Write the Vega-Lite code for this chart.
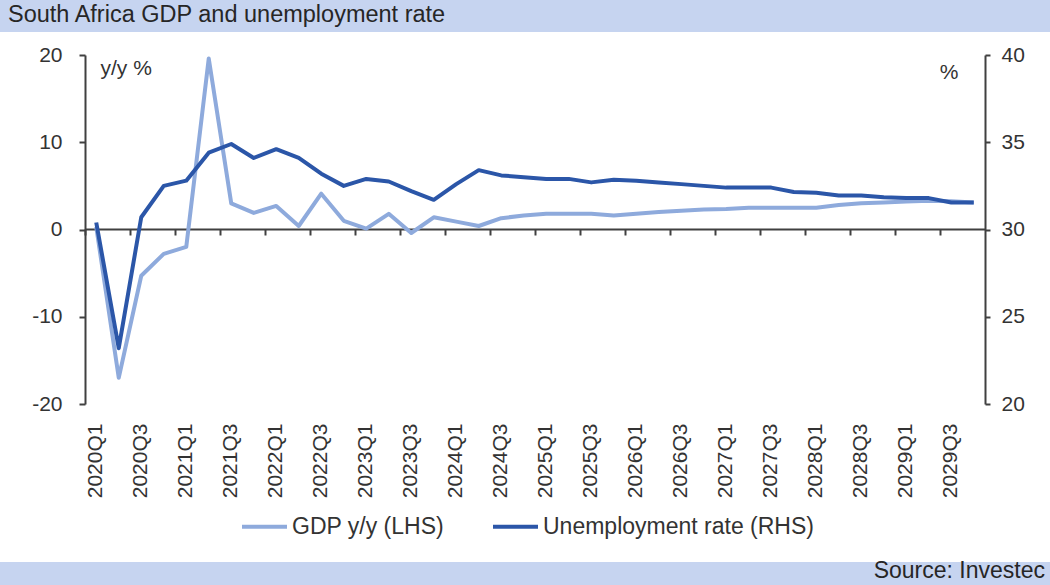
{
  "$schema": "https://vega.github.io/schema/vega-lite/v6.json",
  "padding": 0,
  "background": "white",
  "config": {
    "font": "Liberation Sans",
    "view": {"stroke": null}
  },
  "datasets": {
    "series": [
      {"q": "2020Q1", "gdp": 0.3, "unemp": 30.4},
      {"q": "2020Q2", "gdp": -17.0, "unemp": 23.2},
      {"q": "2020Q3", "gdp": -5.3, "unemp": 30.7},
      {"q": "2020Q4", "gdp": -2.8, "unemp": 32.5},
      {"q": "2021Q1", "gdp": -2.0, "unemp": 32.8},
      {"q": "2021Q2", "gdp": 19.6, "unemp": 34.4},
      {"q": "2021Q3", "gdp": 3.0, "unemp": 34.9},
      {"q": "2021Q4", "gdp": 1.9, "unemp": 34.1},
      {"q": "2022Q1", "gdp": 2.7, "unemp": 34.6},
      {"q": "2022Q2", "gdp": 0.4, "unemp": 34.1},
      {"q": "2022Q3", "gdp": 4.1, "unemp": 33.2},
      {"q": "2022Q4", "gdp": 1.0, "unemp": 32.5},
      {"q": "2023Q1", "gdp": 0.1, "unemp": 32.9},
      {"q": "2023Q2", "gdp": 1.8, "unemp": 32.75},
      {"q": "2023Q3", "gdp": -0.4, "unemp": 32.2},
      {"q": "2023Q4", "gdp": 1.4, "unemp": 31.7},
      {"q": "2024Q1", "gdp": 0.9, "unemp": 32.6},
      {"q": "2024Q2", "gdp": 0.4, "unemp": 33.4},
      {"q": "2024Q3", "gdp": 1.3, "unemp": 33.1},
      {"q": "2024Q4", "gdp": 1.6, "unemp": 33.0},
      {"q": "2025Q1", "gdp": 1.8, "unemp": 32.9},
      {"q": "2025Q2", "gdp": 1.8, "unemp": 32.9},
      {"q": "2025Q3", "gdp": 1.8, "unemp": 32.7},
      {"q": "2025Q4", "gdp": 1.6, "unemp": 32.85},
      {"q": "2026Q1", "gdp": 1.8, "unemp": 32.8},
      {"q": "2026Q2", "gdp": 2.0, "unemp": 32.7},
      {"q": "2026Q3", "gdp": 2.15, "unemp": 32.6},
      {"q": "2026Q4", "gdp": 2.3, "unemp": 32.5},
      {"q": "2027Q1", "gdp": 2.35, "unemp": 32.4},
      {"q": "2027Q2", "gdp": 2.5, "unemp": 32.4},
      {"q": "2027Q3", "gdp": 2.5, "unemp": 32.4},
      {"q": "2027Q4", "gdp": 2.5, "unemp": 32.15},
      {"q": "2028Q1", "gdp": 2.5, "unemp": 32.1},
      {"q": "2028Q2", "gdp": 2.8, "unemp": 31.95},
      {"q": "2028Q3", "gdp": 3.0, "unemp": 31.95},
      {"q": "2028Q4", "gdp": 3.1, "unemp": 31.85},
      {"q": "2029Q1", "gdp": 3.2, "unemp": 31.8},
      {"q": "2029Q2", "gdp": 3.3, "unemp": 31.8},
      {"q": "2029Q3", "gdp": 3.25, "unemp": 31.55},
      {"q": "2029Q4", "gdp": 3.1, "unemp": 31.55}
    ]
  },
  "spacing": 0,
  "bounds": "flush",
  "resolve": {"scale": {"color": "independent"}, "legend": {"color": "independent"}},
  "vconcat": [
    {
      "width": 1050,
      "height": 32,
      "view": {"fill": "#c6d4f0", "stroke": null},
      "title": {
        "text": "South Africa GDP and unemployment rate",
        "anchor": "start",
        "frame": "group",
        "orient": "top",
        "offset": -26,
        "dx": 8,
        "fontSize": 23.5,
        "fontWeight": "normal",
        "font": "Liberation Sans",
        "color": "#262626"
      },
      "data": {"values": [{"t": ""}]},
      "mark": {"type": "text"},
      "encoding": {"text": {"field": "t"}}
    },
    {
      "width": 1050,
      "height": 530,
      "data": {"name": "series"},
      "layer": [
        {
          "mark": {"type": "line", "strokeWidth": 4, "strokeJoin": "round"},
          "encoding": {
            "x": {
              "field": "q", "type": "ordinal", "sort": null,
              "scale": {"type": "band", "paddingInner": 0, "paddingOuter": 0, "range": [85, 985]},
              "axis": {
                "orient": "bottom",
                "offset": -158,
                "title": null,
                "values": ["2020Q1","2020Q3","2021Q1","2021Q3","2022Q1","2022Q3","2023Q1","2023Q3","2024Q1","2024Q3","2025Q1","2025Q3","2026Q1","2026Q3","2027Q1","2027Q3","2028Q1","2028Q3","2029Q1","2029Q3"],
                "labelAngle": 270,
                "labelFontSize": 21,
                "labelColor": "#333333",
                "labelPadding": 19,
                "labelOverlap": false,
                "ticks": false,
                "domain": false,
                "grid": false
              }
            },
            "y": {
              "field": "gdp", "type": "quantitative",
              "scale": {"domain": [-20, 20], "nice": false, "zero": false, "range": [372, 23]},
              "axis": {
                "orient": "left",
                "offset": -85,
                "values": [-20, -10, 0, 10, 20],
                "labelExpr": "replace(datum.label, '−', '-')",
                "grid": false,
                "domainColor": "#404040",
                "domainWidth": 2,
                "tickColor": "#404040",
                "tickWidth": 2,
                "tickSize": 6,
                "labelFontSize": 21,
                "labelColor": "#333333",
                "labelPadding": 17,
                "title": "y/y %",
                "titleAngle": 0,
                "titleX": 15,
                "titleY": 36,
                "titleAlign": "left",
                "titleBaseline": "middle",
                "titleFontSize": 21,
                "titleFontWeight": "normal",
                "titleColor": "#333333"
              }
            },
            "color": {
              "datum": "GDP y/y (LHS)",
              "type": "nominal",
              "scale": {"domain": ["GDP y/y (LHS)", "Unemployment rate (RHS)"], "range": ["#8eaadc", "#2b56a8"]},
              "legend": {
                "orient": "none",
                "legendX": 240,
                "legendY": 470,
                "padding": 0,
                "direction": "horizontal",
                "title": null,
                "symbolType": "stroke",
                "symbolSize": 2025,
                "symbolStrokeWidth": 4,
                "labelFontSize": 23,
                "labelColor": "#333333",
                "labelOffset": 3,
                "labelLimit": 400,
                "columnPadding": 40
              }
            }
          }
        },
        {
          "mark": {"type": "line", "strokeWidth": 4, "strokeJoin": "round"},
          "encoding": {
            "x": {
              "field": "q", "type": "ordinal", "sort": null,
              "scale": {"type": "band", "paddingInner": 0, "paddingOuter": 0, "range": [85, 985]},
              "axis": {
                "orient": "bottom",
                "offset": -333,
                "title": null,
                "values": ["2020Q1","2020Q3","2021Q1","2021Q3","2022Q1","2022Q3","2023Q1","2023Q3","2024Q1","2024Q3","2025Q1","2025Q3","2026Q1","2026Q3","2027Q1","2027Q3","2028Q1","2028Q3","2029Q1","2029Q3"],
                "bandPosition": 0,
                "labels": false,
                "ticks": true,
                "tickSize": 6,
                "tickWidth": 2,
                "tickColor": "#404040",
                "domain": true,
                "domainColor": "#404040",
                "domainWidth": 2,
                "grid": false
              }
            },
            "y": {
              "field": "unemp", "type": "quantitative",
              "scale": {"domain": [20, 40], "nice": false, "zero": false, "range": [372, 23]},
              "axis": {
                "orient": "right",
                "offset": -65,
                "values": [20, 25, 30, 35, 40],
                "grid": false,
                "domainColor": "#404040",
                "domainWidth": 2,
                "tickColor": "#404040",
                "tickWidth": 2,
                "tickSize": 5,
                "labelFontSize": 21,
                "labelColor": "#333333",
                "labelPadding": 11,
                "title": "%",
                "titleAngle": 0,
                "titleX": -27,
                "titleY": 40,
                "titleAlign": "right",
                "titleBaseline": "middle",
                "titleFontSize": 21,
                "titleFontWeight": "normal",
                "titleColor": "#333333"
              }
            },
            "color": {"datum": "Unemployment rate (RHS)", "type": "nominal"}
          }
        }
      ],
      "resolve": {"scale": {"y": "independent"}, "axis": {"x": "independent", "y": "independent"}}
    },
    {
      "width": 1050,
      "height": 23,
      "view": {"fill": "#c6d4f0", "stroke": null},
      "title": {
        "text": "Source: Investec",
        "anchor": "end",
        "frame": "group",
        "orient": "top",
        "offset": -21,
        "dx": -5,
        "fontSize": 23,
        "fontWeight": "normal",
        "font": "Liberation Sans",
        "color": "#262626"
      },
      "data": {"values": [{"t": ""}]},
      "mark": {"type": "text"},
      "encoding": {"text": {"field": "t"}}
    }
  ]
}
